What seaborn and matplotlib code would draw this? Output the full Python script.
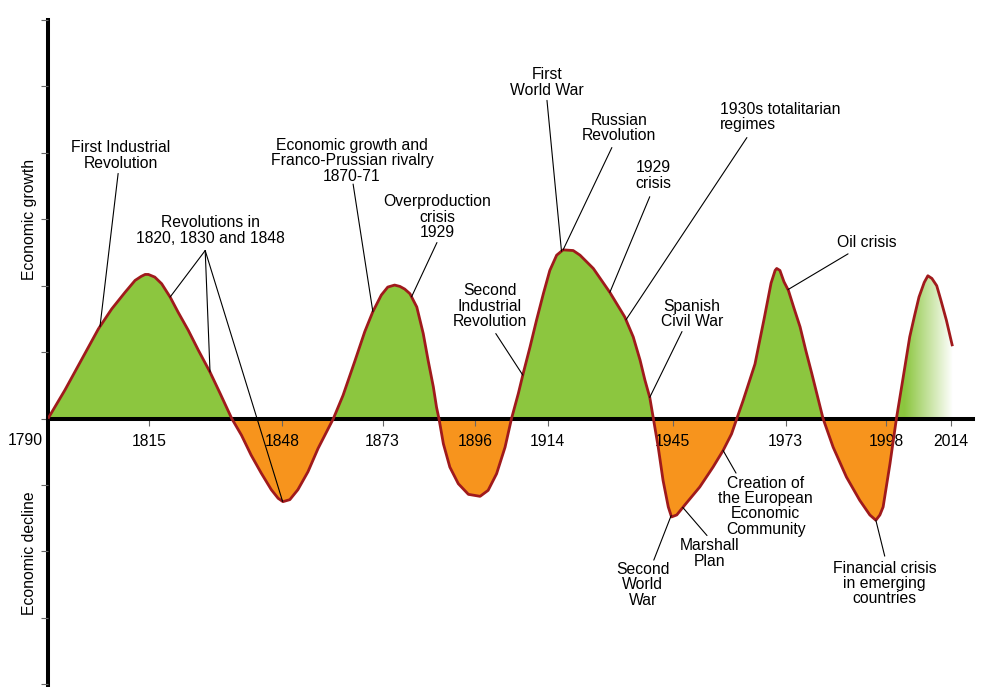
import numpy as np
import pandas as pd
import matplotlib
matplotlib.use("Agg")
import matplotlib.pyplot as plt
import seaborn as sns
from matplotlib.colors import LinearSegmentedColormap

# ---------------- data ----------------
years = [1790.0, 1794.2, 1797.9, 1802.5, 1805.8, 1809.1, 1811.6, 1813.1, 1814.1, 1814.9,
         1816.5, 1818.2, 1820.3, 1822.3, 1824.8, 1827.3, 1830.2, 1832.7, 1835.6, 1838.0,
         1840.4, 1842.9, 1845.4, 1847.1, 1848.3, 1850.0, 1852.0, 1854.5, 1857.0, 1860.8,
         1863.2, 1866.1, 1868.6, 1870.6, 1872.7, 1874.3, 1876.0, 1877.3, 1878.5, 1879.8,
         1881.5, 1883.1, 1884.3, 1885.6, 1886.4, 1887.0, 1888.1, 1889.7, 1891.8, 1894.3,
         1897.2, 1899.2, 1901.3, 1903.4, 1905.0, 1906.7, 1907.9, 1909.6, 1911.2, 1912.9,
         1914.5, 1916.2, 1917.8, 1920.3, 1922.0, 1925.3, 1929.4, 1933.1, 1935.2, 1936.9,
         1938.1, 1939.3, 1940.2, 1941.4, 1942.6, 1943.9, 1944.7, 1946.0, 1948.0, 1951.7,
         1955.0, 1957.5, 1959.6, 1960.9, 1962.4, 1965.4, 1967.7, 1969.4, 1970.4, 1970.8,
         1971.6, 1972.6, 1973.7, 1975.1, 1976.6, 1978.0, 1979.5, 1980.9, 1982.3, 1984.8,
         1988.1, 1991.4, 1993.9, 1995.4, 1996.4, 1997.2, 1998.9, 2000.5, 2002.2, 2003.8,
         2005.0, 2006.1, 2007.4, 2008.3, 2009.3, 2010.5, 2011.5, 2012.9, 2014.4]
values = [0.00, 0.43, 0.84, 1.35, 1.65, 1.90, 2.08, 2.14, 2.17, 2.17,
          2.13, 2.03, 1.83, 1.60, 1.33, 1.03, 0.70, 0.38, 0.00, -0.25,
          -0.55, -0.82, -1.07, -1.20, -1.25, -1.22, -1.07, -0.80, -0.45, 0.00,
          0.35, 0.86, 1.31, 1.61, 1.86, 1.98, 2.01, 1.99, 1.95, 1.88,
          1.68, 1.28, 0.88, 0.48, 0.17, 0.00, -0.38, -0.73, -0.98, -1.14,
          -1.17, -1.08, -0.83, -0.43, 0.00, 0.38, 0.68, 1.08, 1.48, 1.88,
          2.23, 2.46, 2.54, 2.53, 2.46, 2.26, 1.90, 1.53, 1.23, 0.88,
          0.58, 0.32, 0.00, -0.43, -0.93, -1.33, -1.48, -1.45, -1.30, -1.03,
          -0.73, -0.48, -0.23, 0.00, 0.26, 0.82, 1.51, 2.04, 2.23, 2.26,
          2.23, 2.06, 1.93, 1.66, 1.38, 1.03, 0.68, 0.34, 0.00, -0.43,
          -0.88, -1.23, -1.45, -1.53, -1.45, -1.33, -0.68, 0.00, 0.63, 1.23,
          1.55, 1.83, 2.05, 2.15, 2.11, 2.00, 1.79, 1.48, 1.09]

tick_years = [1815, 1848, 1873, 1896, 1914, 1945, 1973, 1998, 2014]
start_year = 1790
y_ticks = list(range(-4, 7))
fade_start_year = 2000.5          # last upswing is drawn as a fading area

axis_label_up = "Economic growth"
axis_label_down = "Economic decline"

# annotations: label, text centre (year, value), leader start (year, value), target years on curve
annotations = [
    ("First Industrial\nRevolution", (1808.1, 3.96), (1807.4, 3.69), [1802.9], "center"),
    ("Revolutions in\n1820, 1830 and 1848", (1830.2, 2.83), (1829.0, 2.53), [1820.3, 1830.2, 1848.2], "center"),
    ("Economic growth and\nFranco-Prussian rivalry\n1870-71", (1865.4, 3.88), (1865.7, 3.53), [1870.6], "center"),
    ("Overproduction\ncrisis\n1929", (1886.5, 3.03), (1886.5, 2.65), [1880.2], "center"),
    ("Second\nIndustrial\nRevolution", (1899.6, 1.69), (1901.1, 1.28), [1907.8], "center"),
    ("First\nWorld War", (1913.8, 5.06), (1913.8, 4.79), [1917.4], "center"),
    ("Russian\nRevolution", (1931.7, 4.37), (1929.9, 4.08), [1917.8], "center"),
    ("1929\ncrisis", (1940.3, 3.66), (1939.3, 3.34), [1929.4], "center"),
    ("1930s totalitarian\nregimes", (1956.7, 4.54), (1963.4, 4.23), [1933.4], "left"),
    ("Spanish\nCivil War", (1949.8, 1.57), (1947.3, 1.31), [1939.3], "center"),
    ("Oil crisis", (1993.2, 2.65), (1988.5, 2.48), [1973.6], "center"),
    ("Creation of\nthe European\nEconomic\nCommunity", (1968.1, -1.32), (1960.7, -0.82), [1957.5], "center"),
    ("Marshall\nPlan", (1954.2, -2.03), (1953.5, -1.76), [1947.5], "center"),
    ("Second\nWorld\nWar", (1937.6, -2.50), (1940.3, -2.13), [1944.6], "center"),
    ("Financial crisis\nin emerging\ncountries", (1997.6, -2.48), (1997.6, -2.07), [1995.4], "center"),
]

GREEN = "#8cc63f"
ORANGE = "#f7941d"
RED = "#a01a1c"

# ---------------- style ----------------
sns.set_style("ticks")
plt.rcParams["font.family"] = ["Liberation Sans", "DejaVu Sans"]
plt.rcParams["text.color"] = "black"
plt.rcParams["xtick.labelcolor"] = "black"
FS = 11.3

df = pd.DataFrame({"year": years, "value": values})
x = df["year"].to_numpy()
y = df["value"].to_numpy()

fig = plt.figure(figsize=(9.85, 6.87), dpi=100)
ax = fig.add_axes([48 / 985, 0.0, 925 / 985, 667 / 687])
ax.set_axisbelow(False)

# fills
ax.fill_between(x, y, 0, where=(y >= 0) & (x <= fade_start_year), interpolate=True,
                color=GREEN, lw=0, zorder=1)
ax.fill_between(x, y, 0, where=(y <= 0), interpolate=True, color=ORANGE, lw=0, zorder=1)
fade_poly = ax.fill_between(x, y, 0, where=(y >= 0) & (x >= fade_start_year), interpolate=True,
                            facecolor="none", lw=0, zorder=1)
cmap = LinearSegmentedColormap.from_list("fade", [(0, GREEN), (0.15, GREEN), (1.0, "#ffffff")])
grad = np.linspace(0, 1, 256).reshape(1, -1)
im = ax.imshow(grad, extent=[fade_start_year, x[-1], 0, y.max() + 0.1], aspect="auto",
               cmap=cmap, origin="lower", zorder=1, interpolation="bilinear")
im.set_clip_path(fade_poly.get_paths()[0], transform=ax.transData)

# curve
sns.lineplot(data=df, x="year", y="value", color=RED, lw=2.0, ax=ax,
             estimator=None, sort=False, zorder=5, solid_joinstyle="round",
             solid_capstyle="butt")

# limits
ax.set_xlim(start_year, 2019.5)
ax.set_ylim(-4.04, 5.99)

# spines
for s in ("top", "right"):
    ax.spines[s].set_visible(False)
ax.spines["bottom"].set_position(("data", 0))
for s in ("bottom", "left"):
    ax.spines[s].set_linewidth(2.9)
    ax.spines[s].set_color("black")
ax.spines["bottom"].set_zorder(4)

ax.set_xticks(tick_years)
ax.set_xticklabels([str(t) for t in tick_years])
ax.set_yticks(y_ticks)
ax.tick_params(axis="x", direction="out", length=5, width=0.8, color="#666666",
               pad=6, labelsize=FS, labelcolor="black", bottom=True)
ax.tick_params(axis="y", direction="out", length=5, width=0.8, color="#666666",
               left=True, labelleft=False)
ax.set_xlabel("")
ax.set_ylabel("")

ax.annotate(str(start_year), xy=(start_year, 0), xytext=(-5, -22), textcoords="offset pixels",
            ha="right", va="center", fontsize=FS, color="black", annotation_clip=False)

ax.text(1785.5, 3.0, axis_label_up, rotation=90, ha="center", va="center",
        fontsize=FS, color="black", clip_on=False)
ax.text(1785.5, -2.03, axis_label_down, rotation=90, ha="center", va="center",
        fontsize=FS, color="black", clip_on=False)

# annotations
for label, tpos, lstart, targets, align in annotations:
    ax.text(tpos[0], tpos[1], label, ha=align, va="center", multialignment=align,
            fontsize=FS, linespacing=1.03, color="black", zorder=6)
    for ty in targets:
        tv = np.interp(ty, x, y)
        ax.annotate("", xy=(ty, tv), xytext=lstart,
                    arrowprops=dict(arrowstyle="-", lw=0.8, color="black",
                                    shrinkA=0, shrinkB=0), zorder=6)

fig.savefig("out.png", dpi=100)
